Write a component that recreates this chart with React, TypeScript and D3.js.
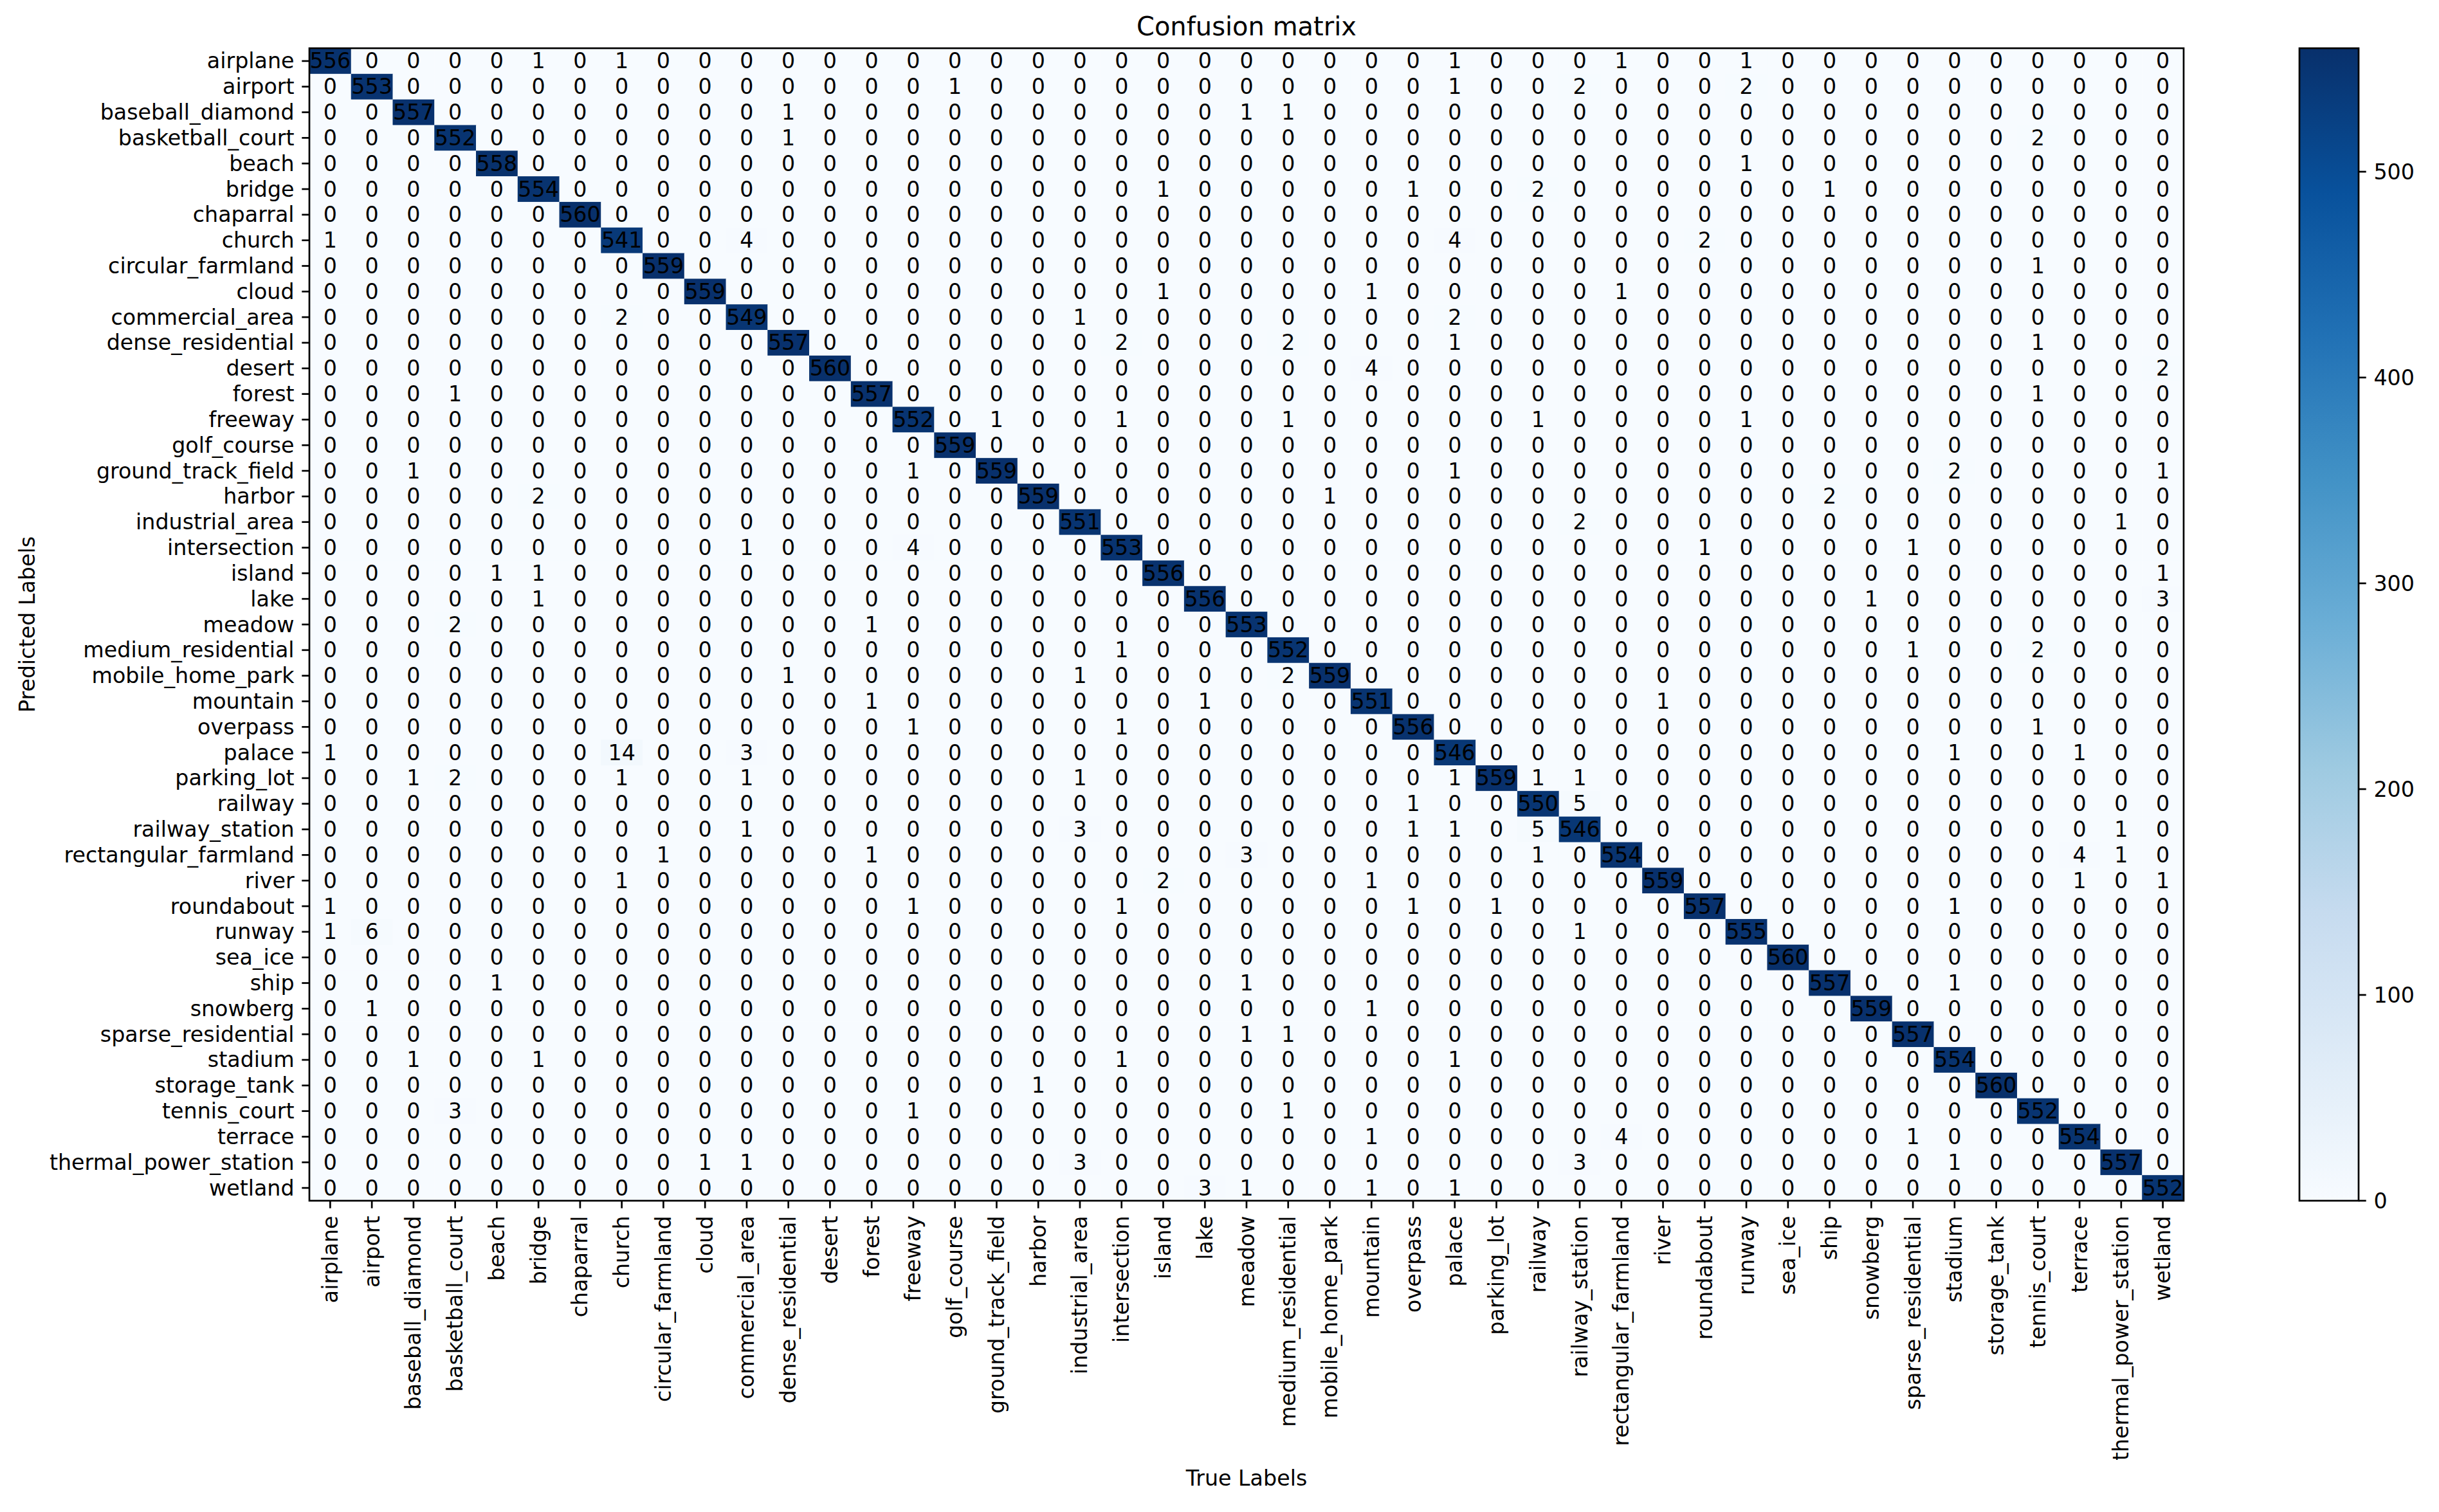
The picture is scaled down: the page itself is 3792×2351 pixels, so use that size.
import React from 'react';
import * as d3 from 'd3';

// class names, used for both axes (rows = predicted, columns = true)
const labels = [
  'airplane', 'airport', 'baseball_diamond', 'basketball_court', 'beach', 'bridge',
  'chaparral', 'church', 'circular_farmland', 'cloud', 'commercial_area',
  'dense_residential', 'desert', 'forest', 'freeway', 'golf_course',
  'ground_track_field', 'harbor', 'industrial_area', 'intersection', 'island', 'lake',
  'meadow', 'medium_residential', 'mobile_home_park', 'mountain', 'overpass', 'palace',
  'parking_lot', 'railway', 'railway_station', 'rectangular_farmland', 'river',
  'roundabout', 'runway', 'sea_ice', 'ship', 'snowberg', 'sparse_residential',
  'stadium', 'storage_tank', 'tennis_court', 'terrace', 'thermal_power_station', 'wetland'
];

// correct predictions, in label order
const diagonal = [
  556, 553, 557, 552, 558, 554, 560, 541, 559, 559, 549, 557, 560, 557, 552, 559,
  559, 559, 551, 553, 556, 556, 553, 552, 559, 551, 556, 546, 559, 550, 546, 554,
  559, 557, 555, 560, 557, 559, 557, 554, 560, 552, 554, 557, 552
];

// off-diagonal cells: [predicted, true, count]
const confusions: [string, string, number][] = [
  ['airplane', 'bridge', 1], ['airplane', 'church', 1], ['airplane', 'palace', 1],
  ['airplane', 'rectangular_farmland', 1], ['airplane', 'runway', 1],
  ['airport', 'golf_course', 1], ['airport', 'palace', 1], ['airport', 'railway_station', 2],
  ['airport', 'runway', 2],
  ['baseball_diamond', 'dense_residential', 1], ['baseball_diamond', 'meadow', 1],
  ['baseball_diamond', 'medium_residential', 1],
  ['basketball_court', 'dense_residential', 1], ['basketball_court', 'tennis_court', 2],
  ['beach', 'runway', 1],
  ['bridge', 'island', 1], ['bridge', 'overpass', 1], ['bridge', 'railway', 2], ['bridge', 'ship', 1],
  ['church', 'airplane', 1], ['church', 'commercial_area', 4], ['church', 'palace', 4],
  ['church', 'roundabout', 2],
  ['circular_farmland', 'tennis_court', 1],
  ['cloud', 'island', 1], ['cloud', 'mountain', 1], ['cloud', 'rectangular_farmland', 1],
  ['commercial_area', 'church', 2], ['commercial_area', 'industrial_area', 1],
  ['commercial_area', 'palace', 2],
  ['dense_residential', 'intersection', 2], ['dense_residential', 'medium_residential', 2],
  ['dense_residential', 'palace', 1], ['dense_residential', 'tennis_court', 1],
  ['desert', 'mountain', 4], ['desert', 'wetland', 2],
  ['forest', 'basketball_court', 1], ['forest', 'tennis_court', 1],
  ['freeway', 'ground_track_field', 1], ['freeway', 'intersection', 1],
  ['freeway', 'medium_residential', 1], ['freeway', 'railway', 1], ['freeway', 'runway', 1],
  ['ground_track_field', 'baseball_diamond', 1], ['ground_track_field', 'freeway', 1],
  ['ground_track_field', 'palace', 1], ['ground_track_field', 'stadium', 2],
  ['ground_track_field', 'wetland', 1],
  ['harbor', 'bridge', 2], ['harbor', 'mobile_home_park', 1], ['harbor', 'ship', 2],
  ['industrial_area', 'railway_station', 2], ['industrial_area', 'thermal_power_station', 1],
  ['intersection', 'commercial_area', 1], ['intersection', 'freeway', 4],
  ['intersection', 'roundabout', 1], ['intersection', 'sparse_residential', 1],
  ['island', 'beach', 1], ['island', 'bridge', 1], ['island', 'wetland', 1],
  ['lake', 'bridge', 1], ['lake', 'snowberg', 1], ['lake', 'wetland', 3],
  ['meadow', 'basketball_court', 2], ['meadow', 'forest', 1],
  ['medium_residential', 'intersection', 1], ['medium_residential', 'sparse_residential', 1],
  ['medium_residential', 'tennis_court', 2],
  ['mobile_home_park', 'dense_residential', 1], ['mobile_home_park', 'industrial_area', 1],
  ['mobile_home_park', 'medium_residential', 2],
  ['mountain', 'forest', 1], ['mountain', 'lake', 1], ['mountain', 'river', 1],
  ['overpass', 'freeway', 1], ['overpass', 'intersection', 1], ['overpass', 'tennis_court', 1],
  ['palace', 'airplane', 1], ['palace', 'church', 14], ['palace', 'commercial_area', 3],
  ['palace', 'stadium', 1], ['palace', 'terrace', 1],
  ['parking_lot', 'baseball_diamond', 1], ['parking_lot', 'basketball_court', 2],
  ['parking_lot', 'church', 1], ['parking_lot', 'commercial_area', 1],
  ['parking_lot', 'industrial_area', 1], ['parking_lot', 'palace', 1],
  ['parking_lot', 'railway', 1], ['parking_lot', 'railway_station', 1],
  ['railway', 'overpass', 1], ['railway', 'railway_station', 5],
  ['railway_station', 'commercial_area', 1], ['railway_station', 'industrial_area', 3],
  ['railway_station', 'overpass', 1], ['railway_station', 'palace', 1],
  ['railway_station', 'railway', 5], ['railway_station', 'thermal_power_station', 1],
  ['rectangular_farmland', 'circular_farmland', 1], ['rectangular_farmland', 'forest', 1],
  ['rectangular_farmland', 'meadow', 3], ['rectangular_farmland', 'railway', 1],
  ['rectangular_farmland', 'terrace', 4], ['rectangular_farmland', 'thermal_power_station', 1],
  ['river', 'church', 1], ['river', 'island', 2], ['river', 'mountain', 1],
  ['river', 'terrace', 1], ['river', 'wetland', 1],
  ['roundabout', 'airplane', 1], ['roundabout', 'freeway', 1], ['roundabout', 'intersection', 1],
  ['roundabout', 'overpass', 1], ['roundabout', 'parking_lot', 1], ['roundabout', 'stadium', 1],
  ['runway', 'airplane', 1], ['runway', 'airport', 6], ['runway', 'railway_station', 1],
  ['ship', 'beach', 1], ['ship', 'meadow', 1], ['ship', 'stadium', 1],
  ['snowberg', 'airport', 1], ['snowberg', 'mountain', 1],
  ['sparse_residential', 'meadow', 1], ['sparse_residential', 'medium_residential', 1],
  ['stadium', 'baseball_diamond', 1], ['stadium', 'bridge', 1], ['stadium', 'intersection', 1],
  ['stadium', 'palace', 1],
  ['storage_tank', 'harbor', 1],
  ['tennis_court', 'basketball_court', 3], ['tennis_court', 'freeway', 1],
  ['tennis_court', 'medium_residential', 1],
  ['terrace', 'mountain', 1], ['terrace', 'rectangular_farmland', 4],
  ['terrace', 'sparse_residential', 1],
  ['thermal_power_station', 'cloud', 1], ['thermal_power_station', 'commercial_area', 1],
  ['thermal_power_station', 'industrial_area', 3], ['thermal_power_station', 'railway_station', 3],
  ['thermal_power_station', 'stadium', 1],
  ['wetland', 'lake', 3], ['wetland', 'meadow', 1], ['wetland', 'mountain', 1],
  ['wetland', 'palace', 1]
];

const colorbarTicks = [0, 100, 200, 300, 400, 500];

// matplotlib "Blues"
const blues = ['#f7fbff', '#deebf7', '#c6dbef', '#9ecae1', '#6baed6', '#4292c6', '#2171b5', '#08519c', '#08306b'];

const W = 3792, H = 2351;
const left = 481, right = 3395, top = 75, bottom = 1867;
const cbLeft = 3575, cbRight = 3667;
const font = 'DejaVu Sans';
const fs = 33.3;
const tickLen = 11.7, tickPad = 11.7;

export default function App() {
  // build the full matrix
  const matrix = labels.map((_, i) => labels.map((_, j) => (i === j ? diagonal[i] : 0)));
  confusions.forEach(([p, t, n]) => {
    matrix[labels.indexOf(p)][labels.indexOf(t)] = n;
  });
  const cells = matrix.flatMap((row, i) => row.map((v, j) => ({ i, j, v })));

  const vmin = d3.min(cells, d => d.v) as number;
  const vmax = d3.max(cells, d => d.v) as number;

  const x = d3.scaleBand<number>().domain(d3.range(labels.length)).range([left, right]);
  const y = d3.scaleBand<number>().domain(d3.range(labels.length)).range([top, bottom]);
  const color = d3
    .scaleLinear<string>()
    .domain(blues.map((_, k) => vmin + (k * (vmax - vmin)) / (blues.length - 1)))
    .range(blues)
    .interpolate(d3.interpolateRgb);
  const cb = d3.scaleLinear().domain([vmin, vmax]).range([bottom, top]);

  const bw = x.bandwidth(), bh = y.bandwidth();

  return (
    <svg
      width={W}
      height={H}
      style={{ position: 'absolute', left: 0, top: 0, background: '#fff' }}
      fontFamily={font}
    >
      <rect width={W} height={H} fill="#fff" />
      <defs>
        <linearGradient id="cbGrad" x1="0" y1="1" x2="0" y2="0">
          {blues.map((c, k) => (
            <stop key={k} offset={k / (blues.length - 1)} stopColor={c} />
          ))}
        </linearGradient>
      </defs>

      {/* heatmap cells */}
      <g>
        {cells.map(d => (
          <rect
            key={`${d.i}-${d.j}`}
            x={x(d.j)}
            y={y(d.i)}
            width={bw + 0.5}
            height={bh + 0.5}
            fill={color(d.v)}
          />
        ))}
      </g>
      <g fontSize={fs} textAnchor="middle" fill="#000">
        {cells.map(d => (
          <text
            key={`t${d.i}-${d.j}`}
            x={(x(d.j) as number) + bw / 2}
            y={(y(d.i) as number) + bh / 2}
            dominantBaseline="central"
          >
            {d.v}
          </text>
        ))}
      </g>
      <rect x={left} y={top} width={right - left} height={bottom - top} fill="none" stroke="#000" strokeWidth={2.7} />

      {/* y axis */}
      <g fontSize={fs} textAnchor="end">
        {labels.map((l, i) => {
          const cy = (y(i) as number) + bh / 2;
          return (
            <g key={l}>
              <line x1={left} x2={left - tickLen} y1={cy} y2={cy} stroke="#000" strokeWidth={2.7} />
              <text x={left - tickLen - tickPad} y={cy} dominantBaseline="central">{l}</text>
            </g>
          );
        })}
      </g>

      {/* x axis */}
      <g fontSize={fs} textAnchor="end">
        {labels.map((l, j) => {
          const cx = (x(j) as number) + bw / 2;
          return (
            <g key={l}>
              <line x1={cx} x2={cx} y1={bottom} y2={bottom + tickLen} stroke="#000" strokeWidth={2.7} />
              <text
                transform={`translate(${cx},${bottom + tickLen + tickPad}) rotate(-90)`}
                dominantBaseline="central"
              >
                {l}
              </text>
            </g>
          );
        })}
      </g>

      <text x={(left + right) / 2} y={55} fontSize={40} textAnchor="middle">Confusion matrix</text>
      <text x={(left + right) / 2} y={2310} fontSize={fs} textAnchor="middle">True Labels</text>
      <text
        transform={`translate(54,${(top + bottom) / 2}) rotate(-90)`}
        fontSize={fs}
        textAnchor="middle"
      >
        Predicted Labels
      </text>

      {/* colorbar */}
      <rect x={cbLeft} y={top} width={cbRight - cbLeft} height={bottom - top} fill="url(#cbGrad)" stroke="#000" strokeWidth={2.7} />
      <g fontSize={fs}>
        {colorbarTicks.map(t => (
          <g key={t}>
            <line x1={cbRight} x2={cbRight + tickLen} y1={cb(t)} y2={cb(t)} stroke="#000" strokeWidth={2.7} />
            <text x={cbRight + tickLen + tickPad} y={cb(t)} dominantBaseline="central">{t}</text>
          </g>
        ))}
      </g>
    </svg>
  );
}
